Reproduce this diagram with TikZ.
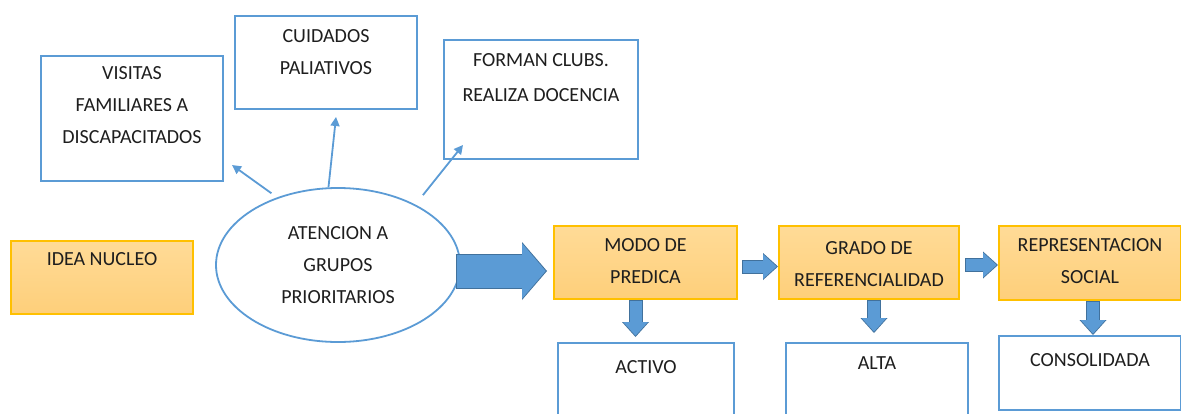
\documentclass[tikz,border=0pt]{standalone}
\usepackage{fontspec}
\setmainfont{Carlito}
\usepackage{xcolor}
\definecolor{cLine}{HTML}{5B9BD5}
\definecolor{cArrEdge}{HTML}{41719C}
\definecolor{cOrEdge}{HTML}{FFC000}
\definecolor{cOrTop}{HTML}{FFDB97}
\definecolor{cOrBot}{HTML}{FECF7A}
\definecolor{cText}{HTML}{1E1E1E}
\usepackage{tikz}
\usetikzlibrary{positioning, arrows.meta, shapes.geometric}

\begin{document}
\begin{tikzpicture}[
    x=1pt, y=-1pt,
    bluebox/.style={draw=cLine, line width=2pt, fill=white, anchor=north west, inner sep=0pt},
    orbox/.style={draw=cOrEdge, line width=2pt, top color=cOrTop, bottom color=cOrBot,
                  anchor=north west, inner sep=0pt},
    txt/.style={align=center, inner sep=0pt, text=cText, font=\fontsize{20}{32}\selectfont},
    lnk/.style={draw=cLine, line width=1.8pt, -{Triangle[length=9pt, width=9pt]}},
    bigedge/.style={draw=cArrEdge, line width=35pt, -{Triangle[length=25pt, width=58pt, line width=0pt]}},
    bigfill/.style={draw=cLine, line width=33pt, shorten <=1pt, shorten >=1.3pt,
                    -{Triangle[length=23.5pt, width=55pt, line width=0pt]}},
    blkedge/.style={draw=cArrEdge, line width=14pt, -{Triangle[length=15pt, width=27pt, line width=0pt]}},
    blkfill/.style={draw=cLine, line width=12pt, shorten <=1pt, shorten >=1.3pt,
                    -{Triangle[length=13.5pt, width=24.5pt, line width=0pt]}}
]
\clip (0,0) rectangle (1181,413);

% upper boxes
\node[bluebox, minimum width=182pt, minimum height=125pt] (visitas) at (40,55) {};
\node[bluebox, minimum width=182pt, minimum height=93pt] (cuidados) at (234,15) {};
\node[bluebox, minimum width=194pt, minimum height=119pt] (forman) at (443,39) {};
\node[txt, below=11.5pt of visitas.north] (visitas-txt) {VISITAS\\FAMILIARES A\\DISCAPACITADOS};
\node[txt, below=14.5pt of cuidados.north] (cuidados-txt) {CUIDADOS\\PALIATIVOS};
\node[txt, below=14.5pt of forman.north] (forman-txt) {FORMAN CLUBS.\\[3pt]REALIZA DOCENCIA};

% orange boxes
\node[orbox, minimum width=182pt, minimum height=73pt] (idea) at (10,240) {};
\node[orbox, minimum width=183pt, minimum height=73pt] (modo) at (553,225) {};
\node[orbox, minimum width=180pt, minimum height=73pt] (grado) at (778,225) {};
\node[orbox, minimum width=182pt, minimum height=74pt] (repres) at (998,225) {};
\node[txt, below=12.5pt of idea.north] (idea-txt) {IDEA NUCLEO};
\node[txt, below=13.5pt of modo.north] (modo-txt) {MODO DE\\PREDICA};
\node[txt, below=16.5pt of grado.north] (grado-txt) {GRADO DE\\REFERENCIALIDAD};
\node[txt, below=13.5pt of repres.north] (repres-txt) {REPRESENTACION\\SOCIAL};

% lower boxes
\node[bluebox, minimum width=176pt, minimum height=100pt] (activo) at (557,342) {};
\node[bluebox, minimum width=182pt, minimum height=100pt] (alta) at (785,342) {};
\node[bluebox, minimum width=182pt, minimum height=74pt] (consol) at (998,335) {};
\node[txt, below=18.5pt of activo.north] (activo-txt) {ACTIVO};
\node[txt, below=14.5pt of alta.north] (alta-txt) {ALTA};
\node[txt, below=18.5pt of consol.north] (consol-txt) {CONSOLIDADA};

% central ellipse
\node[ellipse, draw=cLine, line width=1.8pt, minimum width=244pt, minimum height=154pt,
      inner sep=0pt, txt] (atencion) at (338,265) {ATENCION A\\GRUPOS\\PRIORITARIOS};

% thin links
\coordinate (visitas-tip) at ([xshift=8pt, yshift=17pt]visitas.south east);
\coordinate (cuidados-tip) at ([xshift=10pt, yshift=-7pt]cuidados.south);
\coordinate (forman-tip) at ([xshift=20pt, yshift=15pt]forman.south west);
\draw[lnk, shorten <=7pt] (atencion.132) -- (visitas-tip);
\draw[lnk] (atencion.97) -- (cuidados-tip);
\draw[lnk, shorten <=12pt] (atencion.38) -- (forman-tip);

% block arrows
\path ([xshift=-5pt, yshift=-6pt]atencion.east) coordinate (big-s);
\path (big-s -| modo.west) ++(-6,0) coordinate (big-e);
\path ([xshift=4pt, yshift=-4pt]modo.east) coordinate (mg-s);
\path (mg-s -| grado.west) coordinate (mg-e);
\path ([xshift=5pt, yshift=-2.5pt]grado.east) coordinate (gr-s);
\path (gr-s -| repres.west) coordinate (gr-e);
\path ([xshift=-10pt]modo.south) coordinate (ma-s);
\path (ma-s |- activo.north) ++(0,-5) coordinate (ma-e);
\path ([xshift=5pt]grado.south) coordinate (ga-s);
\path (ga-s |- alta.north) ++(0,-9) coordinate (ga-e);
\path ([xshift=3pt]repres.south) coordinate (rc-s);
\path (rc-s |- consol.north) coordinate (rc-e);

\foreach \s in {bigedge, bigfill}
    \draw[\s] (big-s) -- (big-e);
\foreach \s in {blkedge, blkfill} {
    \draw[\s] (mg-s) -- (mg-e);
    \draw[\s] (gr-s) -- (gr-e);
    \draw[\s] (ma-s) -- (ma-e);
    \draw[\s] (ga-s) -- (ga-e);
    \draw[\s] (rc-s) -- (rc-e);
}
\end{tikzpicture}
\end{document}
